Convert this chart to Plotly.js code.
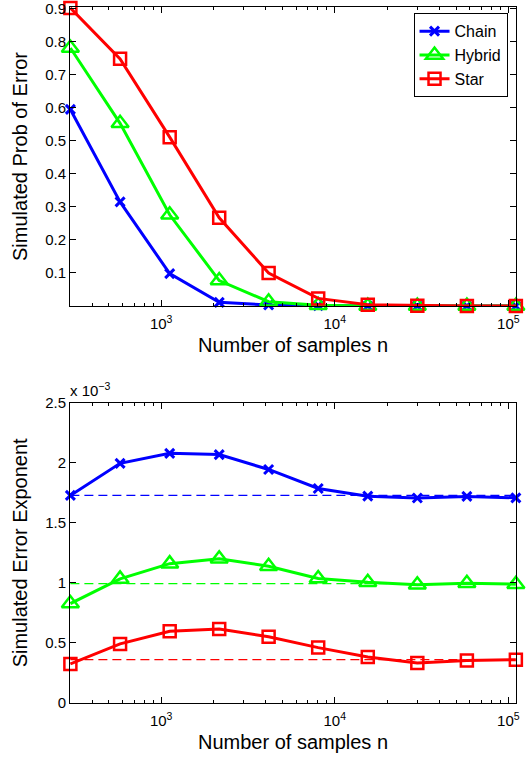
<!DOCTYPE html>
<html>
<head>
<meta charset="utf-8">
<script src="https://cdn.plot.ly/plotly-3.0.1.min.js"></script>
<style>html,body{margin:0;padding:0;background:#fff;}</style>
</head>
<body>
<div id="chart" style="width:529px;height:762px;"></div>
<script>
// Number of samples n
const samples = [300, 580, 1120, 2160, 4160, 8030, 15500, 29900, 57700, 110500];
// Top panel: simulated probability of error
const probChain  = [0.595, 0.315, 0.098, 0.011, 0.003, 0.001, 0.000, 0.000, 0.000, 0.000];
const probHybrid = [0.781, 0.553, 0.276, 0.077, 0.013, 0.002, 0.000, 0.000, 0.000, 0.000];
const probStar   = [0.902, 0.748, 0.511, 0.267, 0.100, 0.023, 0.004, 0.001, 0.000, 0.000];
// Bottom panel: simulated error exponent (x 10^-3)
const expChain  = [1.728, 1.995, 2.078, 2.068, 1.944, 1.786, 1.722, 1.706, 1.720, 1.708];
const expHybrid = [0.828, 1.033, 1.160, 1.200, 1.139, 1.036, 1.005, 0.985, 0.997, 0.989];
const expStar   = [0.325, 0.492, 0.597, 0.615, 0.551, 0.461, 0.383, 0.333, 0.353, 0.361];
// Theoretical exponents (dashed reference lines, x 10^-3)
const theoryChain  = 1.728;
const theoryHybrid = 0.994;
const theoryStar   = 0.361;
const seriesNames = ['Chain', 'Hybrid', 'Star'];
const xTickVals = [1000, 10000, 100000];
const xTickText = ['10<sup>3</sup>', '10<sup>4</sup>', '10<sup>5</sup>'];
const topYTicks = [0.1, 0.2, 0.3, 0.4, 0.5, 0.6, 0.7, 0.8, 0.9];
const botYTicks = [0, 0.5, 1, 1.5, 2, 2.5];
const botYText = ['0', '0.5', '1', '1.5', '2', '2.5'];

const BLUE = '#0000ff', GREEN = '#00ff00', RED = '#ff0000';
const FONT = "'Liberation Sans', Arial, Helvetica, sans-serif";

const minorVals = [];
[100, 1000, 10000].forEach(d => { for (let k = 2; k <= 9; k++) minorVals.push(k * d); });

function styleFor(i) {
  if (i === 0) return {color: BLUE, marker: {symbol: 'x-thin', size: 9, color: BLUE, line: {color: BLUE, width: 3}}};
  if (i === 1) return {color: GREEN, marker: {symbol: 'triangle-up-open', size: 15, color: GREEN, line: {color: GREEN, width: 2.5}}};
  return {color: RED, marker: {symbol: 'square-open', size: 12, color: RED, line: {color: RED, width: 2.5}}};
}

const topSeries = [probChain, probHybrid, probStar];
const botSeries = [expChain, expHybrid, expStar];
const theory = [theoryChain, theoryHybrid, theoryStar];
const traces = [];

// dashed theory lines (bottom)
theory.forEach((v, i) => {
  const s = styleFor(i);
  traces.push({
    x: [samples[0], samples[samples.length - 1]], y: [v, v],
    xaxis: 'x2', yaxis: 'y2', mode: 'lines', showlegend: false, hoverinfo: 'skip',
    line: {color: s.color, width: 1.2, dash: '9px,5px'}
  });
});

topSeries.forEach((ys, i) => {
  const s = styleFor(i);
  traces.push({
    x: samples, y: ys, name: seriesNames[i], xaxis: 'x', yaxis: 'y',
    mode: 'lines+markers', cliponaxis: false,
    line: {color: s.color, width: 3}, marker: s.marker
  });
});
botSeries.forEach((ys, i) => {
  const s = styleFor(i);
  traces.push({
    x: samples, y: ys, name: seriesNames[i], xaxis: 'x2', yaxis: 'y2', showlegend: false,
    mode: 'lines+markers', cliponaxis: false,
    line: {color: s.color, width: 3}, marker: s.marker
  });
});

const xBase = {
  type: 'log', range: [Math.log10(298.5), Math.log10(110700)],
  tickmode: 'array', tickvals: xTickVals, ticktext: xTickText,
  ticks: 'inside', ticklen: 6, tickcolor: '#000', tickwidth: 1,
  minor: {ticks: 'inside', ticklen: 3, tickcolor: '#000', tickvals: minorVals, showgrid: false},
  showline: true, linecolor: '#000', linewidth: 1, mirror: 'allticks',
  showgrid: false, zeroline: false, ticklabelstandoff: 4, ticklabeloverflow: 'allow',
  tickfont: {family: FONT, size: 15, color: '#000'},
  title: {text: 'Number of samples n', font: {family: FONT, size: 20, color: '#000'}, standoff: 6}
};
const yBase = {
  ticks: 'inside', ticklen: 6, tickcolor: '#000', tickwidth: 1,
  showline: true, linecolor: '#000', linewidth: 1, mirror: 'allticks',
  showgrid: false, zeroline: false, ticklabeloverflow: 'allow',
  tickfont: {family: FONT, size: 15, color: '#000'}
};

const layout = {
  width: 529, height: 762,
  margin: {l: 70, r: 13, t: 7, b: 59},
  paper_bgcolor: '#fff', plot_bgcolor: '#fff',
  showlegend: true,
  xaxis: Object.assign({}, xBase, {anchor: 'y'}),
  xaxis2: Object.assign({}, xBase, {anchor: 'y2'}),
  yaxis: Object.assign({}, yBase, {
    domain: [0.5704, 1], anchor: 'x', range: [0, 0.905],
    tickmode: 'array', tickvals: topYTicks,
    title: {text: 'Simulated Prob of Error', font: {family: FONT, size: 20, color: '#000'}, standoff: 12}
  }),
  yaxis2: Object.assign({}, yBase, {
    domain: [0, 0.4315], anchor: 'x2', range: [0, 2.5],
    tickmode: 'array', tickvals: botYTicks, ticktext: botYText,
    title: {text: 'Simulated Error Exponent', font: {family: FONT, size: 20, color: '#000'}, standoff: 12}
  }),
  legend: {
    x: 0.981, y: 0.991, xanchor: 'right', yanchor: 'top',
    bgcolor: '#fff', bordercolor: '#000', borderwidth: 1,
    font: {family: FONT, size: 16, color: '#000'},
    tracegroupgap: 0
  },
  annotations: [{
    xref: 'paper', yref: 'paper', x: 0, y: 0.4315, xanchor: 'left', yanchor: 'bottom',
    yshift: 2, xshift: -2, showarrow: false, text: 'x 10<sup>\u22123</sup>',
    font: {family: FONT, size: 15, color: '#000'}
  }]
};

Plotly.newPlot('chart', traces, layout, {displayModeBar: false, staticPlot: true});
</script>
</body>
</html>
